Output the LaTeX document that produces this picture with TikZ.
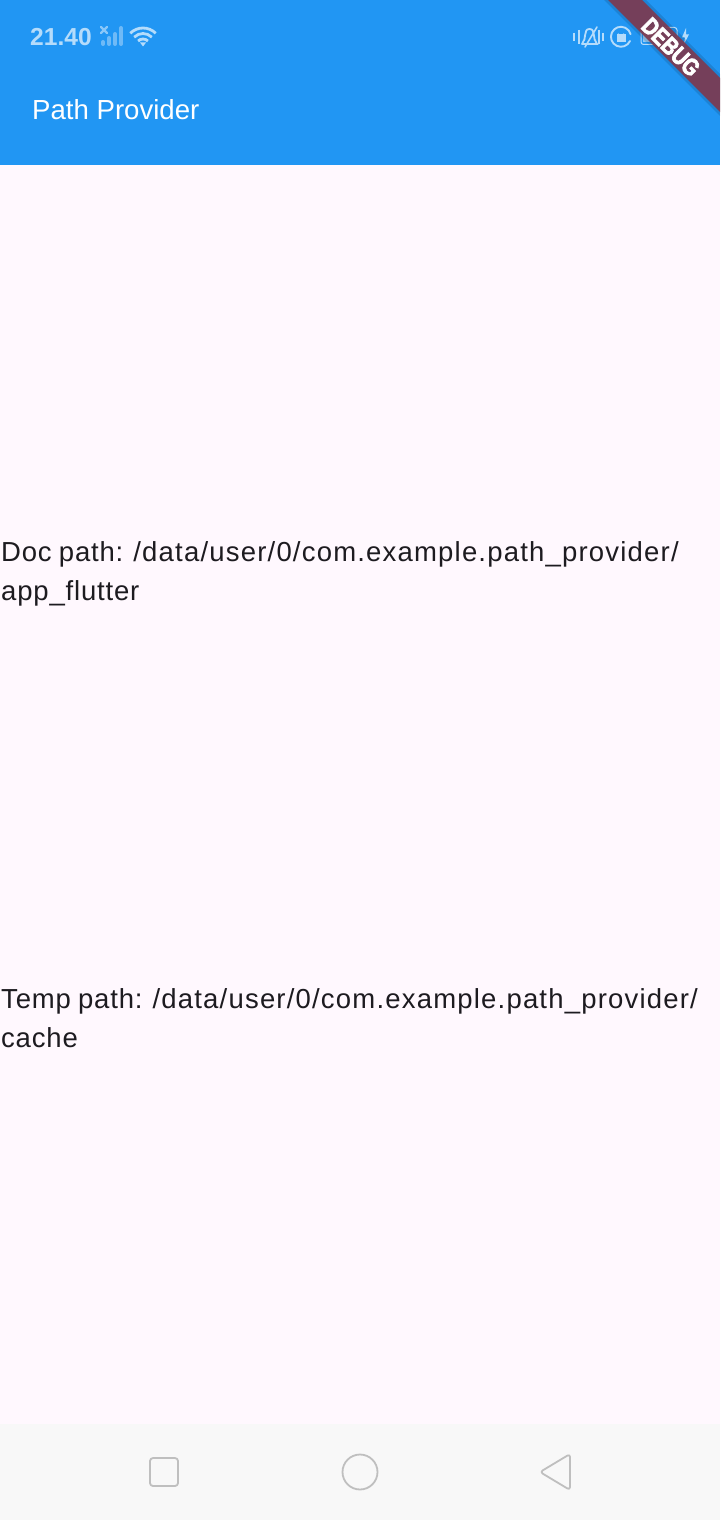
\documentclass[tikz,border=0pt]{standalone}
\usepackage{fontspec}
\setmainfont{Liberation Sans}
\newfontfamily\bodyfont[LetterSpace=3.0,WordSpace=0.85]{Liberation Sans}
\newfontfamily\bannerfont[FakeStretch=.82,FakeBold=3]{Liberation Sans Bold}
\newcommand{\dirpath}[1]{{\addfontfeature{LetterSpace=4.35}#1}}
\usetikzlibrary{positioning,calc}
\definecolor{appblue}{HTML}{2196F3}
\definecolor{pagebg}{HTML}{FFF8FE}
\definecolor{navbg}{HTML}{F8F8F8}
\definecolor{navln}{HTML}{BFBFBF}
\definecolor{bannerbg}{HTML}{7D3A50}
\definecolor{bodytx}{HTML}{1D1B20}
\definecolor{statln}{HTML}{B5DCFB}
\definecolor{statdim}{HTML}{6FBAF7}
\tikzset{
  body/.style = { anchor=base west, inner sep=0pt, text=bodytx, font=\bodyfont\fontsize{27.5}{27.5}\selectfont },
  title/.style = { anchor=base west, inner sep=0pt, text=white, font=\fontsize{27.6}{27.6}\selectfont },
  clock/.style = { anchor=base west, inner sep=0pt, text=statln, font=\fontsize{24.6}{24.6}\selectfont\bfseries },
  statline/.style = { draw=statln, line width=1.8pt, line cap=round },
  navicon/.style = { draw=navln, line width=1.8pt, line join=round },
  banner/.style = { inner sep=0pt, text=white, rotate=-45, font=\bannerfont\fontsize{24}{24}\selectfont }
}
\begin{document}
\begin{tikzpicture}[x=1pt,y=-1pt]
    \useasboundingbox (0,0) rectangle (720,1520);
    % page areas
    \fill[pagebg] (0,0) rectangle (720,1520);
    \fill[appblue] (0,0) rectangle (720,165);
    \fill[navbg] (0,1424) rectangle (720,1520);

    % status bar, left side
    \node[clock] (time) at (30,46) {21.40};
    \draw[statln!70!appblue, line width=2.4pt, line cap=round] (101,27) -- (107,33) (107,27) -- (101,33);
    \foreach \px/\py in {103/42, 109/38, 115/34, 121/28}
      \draw[statdim, line width=4pt, line cap=round] (\px,44) -- (\px,\py);
    \foreach \rr in {18,12.5,7}
      \draw[statline, line width=2.8pt, line cap=butt] ($(143,46)+(-135:\rr)$) arc[start angle=-135, end angle=-45, radius=\rr];
    \fill[statln] (143,46.5) -- (140,42.5) -- (146,42.5) -- cycle;

    % status bar, right side
    \draw[statline, line width=2pt, line cap=butt] (574,33) -- (574,41) (578.5,30) -- (578.5,44) (599,30) -- (599,44) (603,33) -- (603,41);
    \draw[statline, line width=1.8pt] (582,44) -- (597,44) .. controls (592,39) and (596,29) .. (589.5,29) .. controls (583,29) and (587,39) .. (582,44);
    \draw[statline, line width=1.6pt] (585,47) -- (597,27);
    \draw[statline, line width=1.9pt] (630,41) arc[start angle=25, end angle=345, radius=10];
    \draw[statline, line width=1.4pt] (618.3,34) arc[start angle=180, end angle=0, radius=2.7];
    \fill[statln] (616.5,34) rectangle (625.5,42);
    \draw[draw=statln, line width=1pt, rounded corners=2.5pt] (641,27.5) rectangle (677,44.5);
    \fill[statln, opacity=.75] (643,29.5) rectangle (662,42.5);
    \fill[statln] (686,28) -- (682,37.5) -- (685,37.5) -- (684,44) -- (689,34.5) -- (686,34.5) -- cycle;

    % debug ribbon
    \fill[black, opacity=.12] (604,0) -- (646,0) -- (720,74) -- (720,116) -- cycle;
    \fill[bannerbg, opacity=.92] (608,0) -- (642,0) -- (720,78) -- (720,112) -- cycle;
    \node[banner] (debug) at (671,47) {DEBUG};

    % app bar and body
    \node[title] (head) at (32,119) {Path Provider};
    \node[body] (doc1) at (1,561) {Doc path: \dirpath{/data/user/0/com.example.path\_provider/}};
    \node[body] (doc2) at (1,600) {app\_flutter};
    \node[body] (tmp1) at (1,1008) {Temp path: \dirpath{/data/user/0/com.example.path\_provider/}};
    \node[body] (tmp2) at (1,1047) {cache};

    % navigation buttons
    \draw[navicon, rounded corners=3pt] (150,1458) rectangle (178,1486);
    \draw[navicon] (360,1472) circle (17.5);
    \draw[navicon, rounded corners=3pt] (570,1454) -- (540,1472) -- (570,1490) -- cycle;
  \end{tikzpicture}
\end{document}
